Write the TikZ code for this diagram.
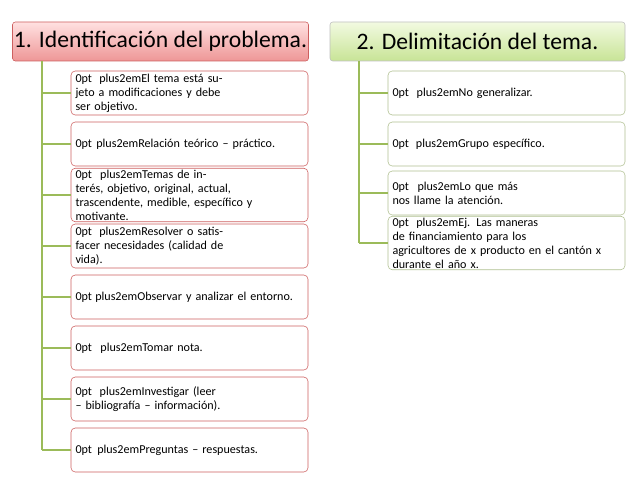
\documentclass[tikz,border=0pt]{standalone}
\usepackage{fontspec}
\setmainfont{Carlito}
\usetikzlibrary{positioning}
\definecolor{redline}{RGB}{205,95,95}
\definecolor{pinktop}{RGB}{255,225,225}
\definecolor{pinkbot}{RGB}{238,150,150}
\definecolor{greentop}{RGB}{242,250,225}
\definecolor{greenbot}{RGB}{200,228,150}
\definecolor{branch}{RGB}{155,187,89}
\tikzset{
  title1/.style={rectangle, rounded corners=2pt, minimum width=295*0.025cm, minimum height=39*0.025cm, draw=redline, top color=pinktop, bottom color=pinkbot, font=\fontsize{16.8}{19}\selectfont, inner sep=1pt},
  title2/.style={rectangle, rounded corners=2pt, minimum width=295*0.025cm, minimum height=39*0.025cm, draw=black!25, top color=greentop, bottom color=greenbot, font=\fontsize{16.8}{19}\selectfont, inner sep=1pt},
  item1/.style={rectangle, rounded corners=3pt, minimum width=237*0.025cm, minimum height=44*0.025cm, text width=228*0.025cm, align=center, draw=redline, fill=white, font=\fontsize{8.6}{10}\selectfont\hyphenpenalty=10000, inner sep=1pt},
  item2/.style={item1, draw=branch!80!black!60},
  link/.style={draw=branch, line width=1.8pt}
}
\begin{document}
\begin{tikzpicture}[x=0.025cm, y=-0.025cm]
  \useasboundingbox (0,0) rectangle (638,479);
  \node (T1) [title1] at (160.5,41.5) {1. Identificación del problema.};
  \node (T2) [title2] at (477.5,41.5) {2. Delimitación del tema.};
  % left column
  \node (a1) [item1] at (189.5,93) {El tema está sujeto a modificaciones y debe\\ ser objetivo.};
  \node (a2) [item1] at (189.5,144) {Relación teórico – práctico.};
  \node (a3) [item1] at (189.5,195) {Temas de interés, objetivo, original, actual,\\ trascendente, medible, específico y\\ motivante.};
  \node (a4) [item1] at (189.5,246) {Resolver o satisfacer necesidades (calidad de\\ vida).};
  \node (a5) [item1] at (189.5,297) {Observar y analizar el entorno.};
  \node (a6) [item1] at (189.5,348) {Tomar nota.};
  \node (a7) [item1] at (189.5,399) {Investigar (leer – bibliografía – información).};
  \node (a8) [item1] at (189.5,450) {Preguntas – respuestas.};
  % right column
  \node (b1) [item2] at (506.5,93) {No generalizar.};
  \node (b2) [item2] at (506.5,144) {Grupo específico.};
  \node (b3) [item2] at (506.5,193) {Lo que más nos llame la atención.};
  \node (b4) [item2] at (506.5,243) {Ej. Las maneras de financiamiento para los\\ agricultores de x producto en el cantón x\\ durante el año x.};
  \coordinate (L) at (42,0);
  \coordinate (R) at (359,0);
  \draw[link] (T1.south -| L) -- (a8.west -| L);
  \draw[link] (T2.south -| R) -- (b4.west -| R);
  \foreach \n in {1,...,8}
    \draw[link] (a\n.west -| L) -- (a\n.west);
  \foreach \n in {1,...,4}
    \draw[link] (b\n.west -| R) -- (b\n.west);
\end{tikzpicture}
\end{document}
